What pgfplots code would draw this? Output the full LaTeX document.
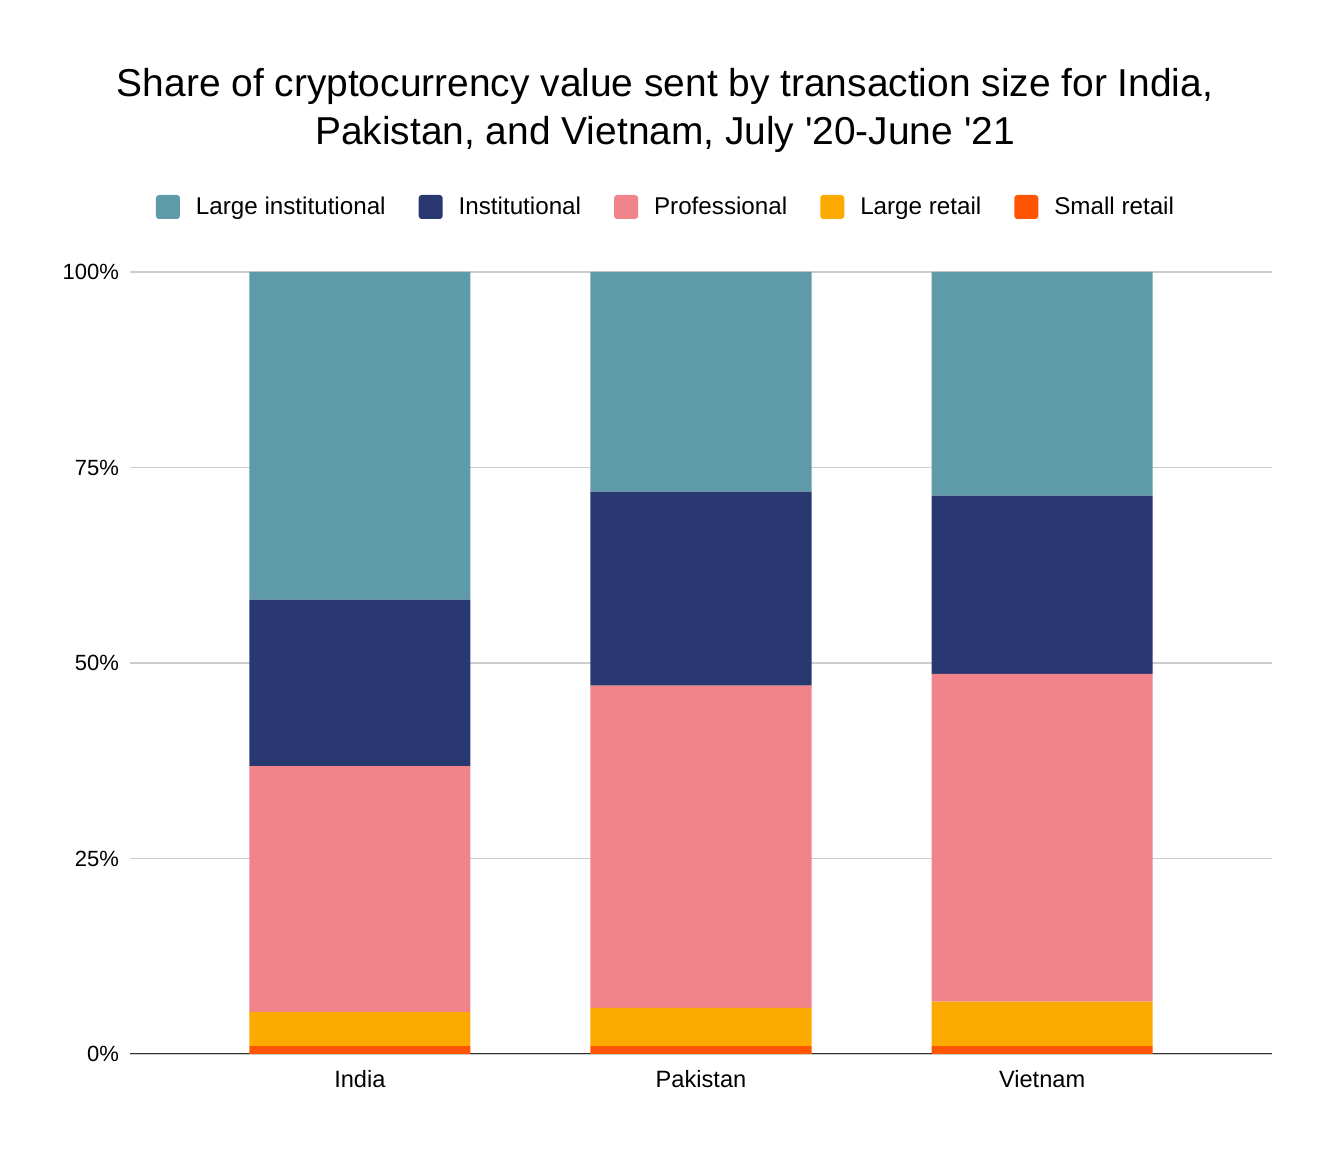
\documentclass[border=0pt]{standalone}
\usepackage{pgfplots}
\pgfplotsset{compat=1.18}
\usepackage{fontspec}
\setmainfont{Liberation Sans}
\newfontfamily\plainfont{Liberation Sans}
\definecolor{clinst}{HTML}{5F9AA8}
\definecolor{cinst}{HTML}{2A3872}
\definecolor{cprof}{HTML}{F0848A}
\definecolor{clret}{HTML}{FCAA00}
\definecolor{csret}{HTML}{FF5500}
\definecolor{cgrid}{HTML}{CCCCCC}
\definecolor{caxis}{HTML}{333333}
\pgfplotsset{sqleg/.style={legend image code/.code={\fill[##1, rounded corners=1.5pt] (0pt,-6pt) rectangle (12pt,6pt);}}}
\begin{document}
\begin{tikzpicture}
\useasboundingbox (-65pt,-49pt) rectangle (600pt,527pt);
\begin{axis}[
  at={(0,0)}, anchor=south west,
  scale only axis, width=571pt, height=391pt,
  ybar stacked, bar width=110.5pt,
  xmin=-0.674, xmax=2.674, ymin=0, ymax=100,
  enlargelimits=false,
  xtick={0,1,2}, xticklabels={India,Pakistan,Vietnam},
  ytick={0,25,50,75,100},
  yticklabel={\pgfmathprintnumber{\tick}\%},
  /pgf/number format/assume math mode=true,
  ticklabel style={text=black},
  yticklabel style={font=\fontsize{11}{13}\selectfont, xshift=-2pt},
  xticklabel style={font=\fontsize{11.8}{14}\selectfont, yshift=-4.5pt},
  major tick length=0pt,
  ymajorgrids, grid style={cgrid, line width=0.75pt},
  axis line style={draw=none},
  title={Share of cryptocurrency value sent by transaction size for India,\\Pakistan, and Vietnam, July '20-June '21},
  title style={at={(0.5,1)}, anchor=center, xshift=-18pt, yshift=75pt, align=center,
    font=\plainfont\fontsize{19.45}{24}\selectfont},
  legend columns=5, reverse legend,
  legend style={at={(0.5,1)}, anchor=center, xshift=-18pt, yshift=32.5pt,
    draw=none, fill=none, font=\fontsize{12.1}{14}\selectfont,
    nodes={inner sep=0pt},
    /tikz/every odd column/.append style={column sep=8pt},
    /tikz/every even column/.append style={column sep=16.5pt}},
  legend cell align=left,
]
\addplot[fill=csret, draw=none, sqleg] coordinates {(0,1.0) (1,1.0) (2,1.0)};
\addplot[fill=clret, draw=none, sqleg] coordinates {(0,4.4) (1,4.9) (2,5.7)};
\addplot[fill=cprof, draw=none, sqleg] coordinates {(0,31.4) (1,41.2) (2,41.9)};
\addplot[fill=cinst, draw=none, sqleg] coordinates {(0,21.3) (1,24.8) (2,22.8)};
\addplot[fill=clinst, draw=none, sqleg] coordinates {(0,41.9) (1,28.1) (2,28.6)};
\legend{Small retail, Large retail, Professional, Institutional, Large institutional}
\draw[caxis, line width=1pt] (rel axis cs:0,0) -- (rel axis cs:1,0);
\end{axis}
\end{tikzpicture}
\end{document}
